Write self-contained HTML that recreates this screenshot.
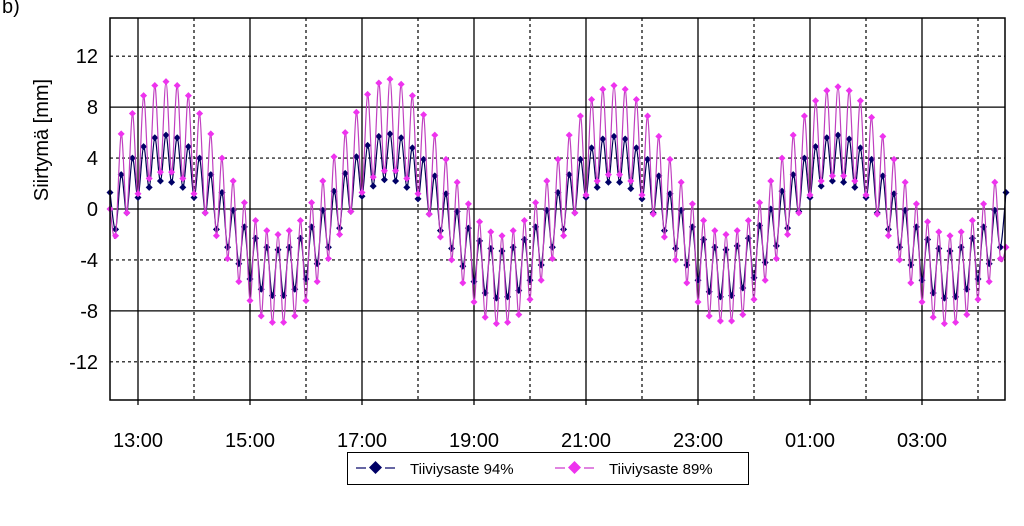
<!DOCTYPE html>
<html><head><meta charset="utf-8"><style>
body{margin:0;background:#fff;width:1024px;height:526px;overflow:hidden;font-family:"Liberation Sans",Arial,sans-serif}
svg{display:block}
</style></head><body>
<svg id="chart" width="1024" height="526" viewBox="0 0 1024 526">
<text x="2" y="13" font-size="20">b)</text>
<text transform="translate(48,140) rotate(-90)" text-anchor="middle" font-size="20">Siirtymä [mm]</text>
<g id="grid"></g><g id="series"></g><g id="axes"></g>
<g>
<rect x="347.5" y="452.5" width="401" height="32" fill="#fff" stroke="#000" stroke-width="1"/>
<g>
<line x1="356" y1="468" x2="366" y2="468" stroke="#000066" stroke-width="1.2"/>
<line x1="385" y1="468" x2="395" y2="468" stroke="#000066" stroke-width="1.2"/>
<path d="M375.5,461 L382,467.5 L375.5,474 L369,467.5 Z" fill="#000066"/>
<text x="410" y="474" font-size="15">Tiiviysaste 94%</text></g>
<g>
<line x1="555" y1="468" x2="565" y2="468" stroke="#cc33cc" stroke-width="1.2"/>
<line x1="584" y1="468" x2="594" y2="468" stroke="#cc33cc" stroke-width="1.2"/>
<path d="M574.5,461 L581,467.5 L574.5,474 L568,467.5 Z" fill="#ee33ee"/>
<text x="609" y="474" font-size="15">Tiiviysaste 89%</text></g>
</g>
</svg>
<script>
const tStart = 12.5, tStep = 0.1; // hours (12:30, 6-min samples)
const yTicks = [12, 8, 4, 0, -4, -8, -12];
const xTickHours = [13, 15, 17, 19, 21, 23, 25, 27];
const xTickLabels = ["13:00","15:00","17:00","19:00","21:00","23:00","01:00","03:00"];
const series94 = [
1.3,-1.6,2.7,-0.3,4.0,0.9,4.9,1.7,5.6,2.2,5.8,2.1,5.6,1.7,4.9,0.9,4.0,-0.3,2.7,-1.6,1.3,-3.0,-0.1,-4.3,-1.4,-5.5,-2.3,-6.3,-3.0,-6.8,-3.2,-6.8,-3.0,-6.3,-2.3,-5.5,-1.4,-4.3,-0.1,-3.0,
1.4,-1.5,2.8,-0.2,4.1,1.0,5.0,1.8,5.7,2.3,5.9,2.2,5.6,1.7,4.8,0.8,3.9,-0.4,2.6,-1.7,1.2,-3.1,-0.2,-4.5,-1.5,-5.7,-2.5,-6.6,-3.1,-7.0,-3.3,-6.9,-3.0,-6.4,-2.4,-5.6,-1.4,-4.4,-0.1,-3.0,
1.3,-1.6,2.7,-0.3,3.9,0.9,4.8,1.7,5.5,2.1,5.7,2.1,5.5,1.6,4.8,0.8,3.9,-0.3,2.6,-1.7,1.2,-3.1,-0.1,-4.4,-1.4,-5.6,-2.4,-6.5,-3.0,-6.9,-3.2,-6.8,-2.9,-6.2,-2.3,-5.4,-1.3,-4.2,0.0,-2.9,
1.4,-1.5,2.7,-0.2,4.0,0.9,4.9,1.8,5.6,2.2,5.8,2.1,5.5,1.7,4.8,0.9,3.9,-0.3,2.6,-1.6,1.2,-3.0,-0.1,-4.4,-1.4,-5.6,-2.4,-6.6,-3.1,-7.0,-3.3,-6.9,-3.0,-6.3,-2.3,-5.5,-1.4,-4.3,-0.1,-3.0,
1.3];
const series89 = [
0.0,-2.1,5.9,-0.3,7.5,1.2,8.9,2.4,9.7,2.9,10.0,2.9,9.7,2.4,8.9,1.2,7.5,-0.3,5.9,-2.1,4.0,-3.9,2.2,-5.7,0.5,-7.2,-0.9,-8.4,-1.7,-8.9,-2.0,-8.9,-1.7,-8.4,-0.9,-7.2,0.5,-5.7,2.2,-3.9,
4.1,-2.0,6.0,-0.2,7.6,1.3,9.0,2.5,9.9,3.0,10.2,3.0,9.8,2.4,8.9,1.2,7.4,-0.4,5.8,-2.2,3.9,-4.0,2.1,-5.8,0.4,-7.3,-1.0,-8.5,-1.8,-9.0,-2.1,-8.9,-1.7,-8.3,-0.9,-7.1,0.5,-5.6,2.2,-3.9,
3.9,-2.1,5.8,-0.3,7.3,1.1,8.6,2.2,9.4,2.7,9.7,2.7,9.4,2.2,8.6,1.1,7.3,-0.4,5.7,-2.2,3.9,-4.0,2.1,-5.8,0.4,-7.3,-0.9,-8.4,-1.7,-8.8,-2.0,-8.8,-1.7,-8.3,-0.9,-7.1,0.5,-5.6,2.2,-3.9,
4.0,-2.0,5.8,-0.3,7.3,1.1,8.5,2.2,9.3,2.6,9.6,2.6,9.3,2.2,8.5,1.1,7.2,-0.4,5.7,-2.1,3.9,-4.0,2.1,-5.8,0.4,-7.3,-1.0,-8.5,-1.8,-9.0,-2.1,-8.9,-1.8,-8.3,-0.9,-7.1,0.4,-5.7,2.1,-3.9,
-3.0];
const L=110,R=1005,T=18,B=400,yMin=-15,yMax=15,h13=138,pxHour=56;
const X=h=>h13+(h-13)*pxHour;
const Y=v=>T+(yMax-v)/(yMax-yMin)*(B-T);
const NS='http://www.w3.org/2000/svg';
function mk(tag,parent,attrs){const e=document.createElementNS(NS,tag);for(const k in attrs)e.setAttribute(k,attrs[k]);parent.appendChild(e);return e;}
const grid=document.getElementById('grid'),axes=document.getElementById('axes'),ser=document.getElementById('series');
yTicks.forEach(v=>{
  const solid=(v%8===0);
  const ln=mk('line',grid,{x1:L,x2:R,y1:Y(v),y2:Y(v),stroke:'#000','stroke-width':solid?1.3:1.2,'stroke-dasharray':solid?'':'3,3'});
  
  
  const tx=mk('text',axes,{x:98,y:Y(v)+7,'text-anchor':'end','font-size':20});
  tx.textContent=String(v);
  
  
});
for(let h=13;h<=28;h++){
  const x=X(h); if(x>R)break;
  const solid=(h%2===1);
  const ln=mk('line',grid,{x1:x,x2:x,y1:T,y2:solid?B+5:B,stroke:'#000','stroke-width':solid?1.3:1.2,'stroke-dasharray':solid?'':'3,3'});
  
  
}
xTickHours.forEach((h,i)=>{
  const tx=mk('text',axes,{x:X(h),y:447,'text-anchor':'middle','font-size':20});
  tx.textContent=xTickLabels[i];
  
  
});
const frame=mk('rect',axes,{x:L,y:T,width:R-L,height:B-T,fill:'none',stroke:'#000','stroke-width':1.5});


function smooth(pts){let d='M'+pts[0][0]+','+pts[0][1];
  for(let i=0;i<pts.length-1;i++){const p0=pts[i-1]||pts[i],p1=pts[i],p2=pts[i+1],p3=pts[i+2]||p2;
    d+=' C'+(p1[0]+(p2[0]-p0[0])/6)+','+(p1[1]+(p2[1]-p0[1])/6)+' '+(p2[0]-(p3[0]-p1[0])/6)+','+(p2[1]-(p3[1]-p1[1])/6)+' '+p2[0]+','+p2[1];}
  return d;}
function draw(data,lineCol,mkCol,name){
  const pts=data.map((v,i)=>[X(tStart+i*tStep),Y(v)]);
  const p=mk('path',ser,{d:smooth(pts),fill:'none',stroke:lineCol,'stroke-width':1.2});
  
  
  pts.forEach(q=>{
    const m=mk('path',ser,{d:`M${q[0]},${q[1]-3.5} L${q[0]+3.5},${q[1]} L${q[0]},${q[1]+3.5} L${q[0]-3.5},${q[1]} Z`,fill:mkCol});
    
    
  });
}
draw(series94,'#000055','#000066','series-94');
draw(series89,'#c040c0','#ee33ee','series-89');
</script>
</body></html>
